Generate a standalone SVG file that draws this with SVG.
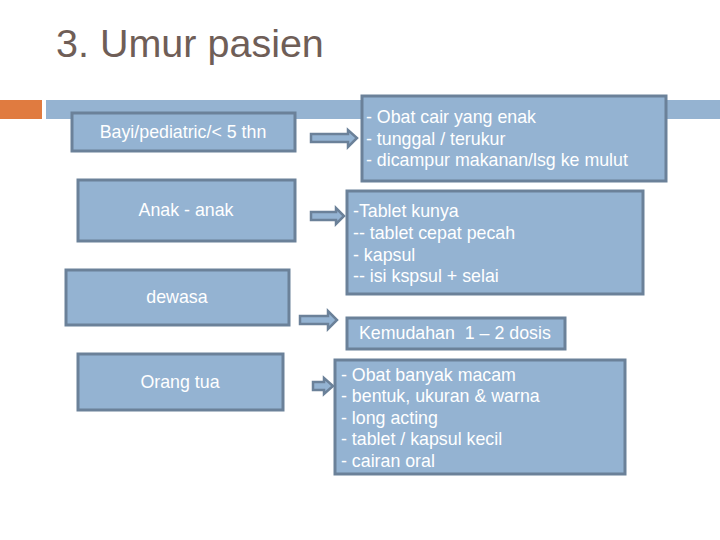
<svg xmlns="http://www.w3.org/2000/svg" width="720" height="540" viewBox="0 0 720 540">
<style>
.box{fill:#94b3d2;stroke:#6b8199;stroke-width:3}
.arr{fill:#94b3d2;stroke:#6b8199;stroke-width:2.5;stroke-linejoin:miter}
.t{font-family:"Liberation Sans",Arial,sans-serif;font-size:17.8px;fill:#ffffff;white-space:pre}
.c{text-anchor:middle}
</style>
<rect width="720" height="540" fill="#ffffff"/>
<text x="56" y="57" font-family="Liberation Sans,Arial,sans-serif" font-size="39.5" fill="#6f5e57">3. Umur pasien</text>
<rect x="0" y="100" width="42" height="19" fill="#e07b40"/>
<rect x="46" y="100" width="674" height="19" fill="#95b3d1"/>
<g id="connectors">
<path class="arr" d="M311,134 H348 V130 L357,138 L348,147 V142 H311 Z"/>
<path class="arr" d="M311,212 H336 V208 L344,216 L336,224 V220 H311 Z"/>
<path class="arr" d="M300,316 H328 V311 L337,320 L328,329 V324 H300 Z"/>
<path class="arr" d="M313,382 H324 V378 L333,386 L324,394 V390 H313 Z"/>
</g>
<g id="bayi"><rect class="box" x="72" y="113" width="223" height="38"/><text class="t c" x="183" y="138">Bayi/pediatric/&lt; 5 thn</text></g>
<g id="anak"><rect class="box" x="78" y="180" width="217" height="61"/><text class="t c" x="186" y="216">Anak - anak</text></g>
<g id="dewasa"><rect class="box" x="66" y="270" width="223" height="55"/><text class="t c" x="177" y="303">dewasa</text></g>
<g id="orangtua"><rect class="box" x="78" y="354" width="205" height="56"/><text class="t c" x="180" y="388">Orang tua</text></g>
<g id="box1"><rect class="box" x="362" y="96" width="304" height="85"/>
<text class="t" x="366" y="123">- Obat cair yang enak</text>
<text class="t" x="366" y="145">- tunggal / terukur</text>
<text class="t" x="366" y="166">- dicampur makanan/lsg ke mulut</text></g>
<g id="box2"><rect class="box" x="347" y="191" width="296" height="103"/>
<text class="t" x="353" y="217">-Tablet kunya</text>
<text class="t" x="353" y="239">-- tablet cepat pecah</text>
<text class="t" x="353" y="261">- kapsul</text>
<text class="t" x="353" y="282">-- isi kspsul + selai</text></g>
<g id="box3"><rect class="box" x="347" y="318" width="218" height="31"/>
<text class="t" x="359" y="339">Kemudahan  1 – 2 dosis</text></g>
<g id="box5"><rect class="box" x="335" y="360" width="290" height="114"/>
<text class="t" x="341" y="381">- Obat banyak macam</text>
<text class="t" x="341" y="402">- bentuk, ukuran &amp; warna</text>
<text class="t" x="341" y="424">- long acting</text>
<text class="t" x="341" y="445">- tablet / kapsul kecil</text>
<text class="t" x="341" y="467">- cairan oral</text></g>
</svg>
